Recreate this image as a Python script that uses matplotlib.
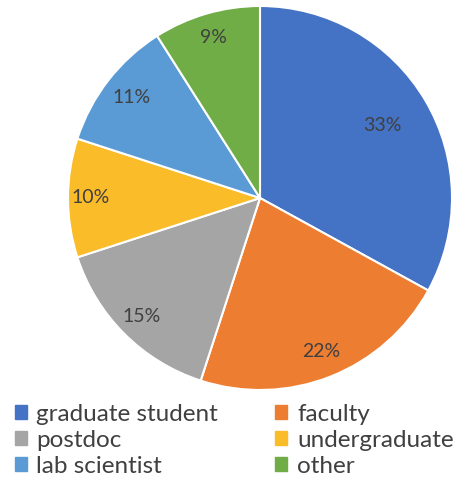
import numpy as np
import matplotlib.pyplot as plt

labels = ['graduate student', 'faculty', 'postdoc', 'undergraduate', 'lab scientist', 'other']
shares = [33, 22, 15, 10, 11, 9]
colors = ['#4472C4', '#ED7D31', '#A5A5A5', '#FBBC2A', '#5B9BD5', '#70AD47']

plt.rcParams['font.family'] = ['Lato', 'DejaVu Sans']
fig = plt.figure(figsize=(4.61, 4.88), dpi=100)
ax = fig.add_axes([(260 - 192) / 461, 1 - (198 + 192) / 488, 384 / 461, 384 / 488])

wedges, _ = ax.pie(shares, colors=colors, startangle=90, counterclock=False,
                   wedgeprops=dict(edgecolor='white', linewidth=1.5))

# label radius per slice, the big one sits further in
dist = [0.74, 0.86, 0.87, 0.88, 0.85, 0.87]
for w, v, d in zip(wedges, shares, dist):
    a = np.deg2rad((w.theta1 + w.theta2) / 2)
    ax.text(d * np.cos(a), d * np.sin(a), f'{v}%', ha='center', va='center',
            fontsize=14, color='#404040')
ax.set_aspect('equal')
ax.set_xlim(-1, 1); ax.set_ylim(-1, 1)

# legend fills columns first, so reorder to read across the rows
order = [0, 2, 4, 1, 3, 5]
handles = [plt.Rectangle((0, 0), 1, 1, color=colors[i]) for i in order]
fig.legend(handles, [labels[i] for i in order], ncol=2, loc='upper left',
           bbox_to_anchor=(0.0, 0.202), frameon=False, fontsize=17.5,
           handlelength=0.5, handleheight=0.5, handletextpad=0.4,
           columnspacing=2.35, labelspacing=0.2, borderpad=0.1,
           labelcolor='#404040')
fig.savefig('out.png', dpi=100)
